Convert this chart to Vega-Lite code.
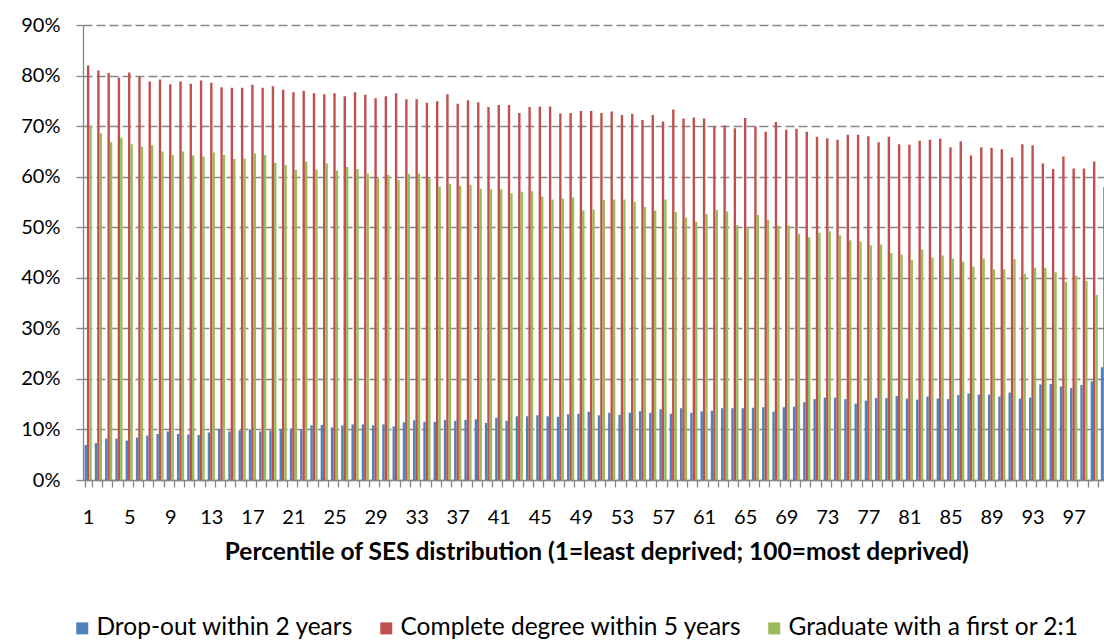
{
  "$schema": "https://vega.github.io/schema/vega-lite/v6.json",
  "width": 1021,
  "height": 455,
  "autosize": "none",
  "padding": {"left": 83, "top": 25, "right": 0, "bottom": 160},
  "background": "white",
  "config": {"font": "Lato", "view": {"stroke": null}},
  "data": {"values": [
    {"p":1,"d":6.9,"c":82.0,"g":69.9},{"p":2,"d":7.3,"c":81.0,"g":68.6},{"p":3,"d":8.2,"c":80.5,"g":66.8},{"p":4,"d":8.2,"c":79.6,"g":67.7},{"p":5,"d":7.8,"c":80.6,"g":66.4},
    {"p":6,"d":8.4,"c":79.7,"g":65.9},{"p":7,"d":8.8,"c":78.8,"g":66.2},{"p":8,"d":9.1,"c":79.2,"g":65.0},{"p":9,"d":9.6,"c":78.3,"g":64.3},{"p":10,"d":9.1,"c":78.8,"g":65.0},
    {"p":11,"d":9.0,"c":78.4,"g":64.2},{"p":12,"d":8.9,"c":79.0,"g":64.0},{"p":13,"d":9.4,"c":78.6,"g":64.8},{"p":14,"d":10.1,"c":77.7,"g":64.3},{"p":15,"d":9.6,"c":77.6,"g":63.5},
    {"p":16,"d":9.8,"c":77.6,"g":63.6},{"p":17,"d":10.0,"c":78.2,"g":64.6},{"p":18,"d":9.6,"c":77.6,"g":64.3},{"p":19,"d":9.8,"c":77.9,"g":62.7},{"p":20,"d":10.1,"c":77.2,"g":62.3},
    {"p":21,"d":10.2,"c":76.7,"g":61.3},{"p":22,"d":10.1,"c":77.0,"g":63.0},{"p":23,"d":10.8,"c":76.5,"g":61.4},{"p":24,"d":10.9,"c":76.3,"g":62.6},{"p":25,"d":10.4,"c":76.5,"g":61.2},
    {"p":26,"d":10.8,"c":75.9,"g":61.9},{"p":27,"d":11.0,"c":76.7,"g":61.5},{"p":28,"d":11.0,"c":76.2,"g":60.6},{"p":29,"d":10.8,"c":75.5,"g":59.7},{"p":30,"d":11.0,"c":75.9,"g":60.4},
    {"p":31,"d":10.6,"c":76.5,"g":59.3},{"p":32,"d":11.4,"c":75.3,"g":60.6},{"p":33,"d":11.8,"c":75.3,"g":60.6},{"p":34,"d":11.5,"c":74.6,"g":59.7},{"p":35,"d":11.5,"c":74.9,"g":58.0},
    {"p":36,"d":11.9,"c":76.3,"g":58.6},{"p":37,"d":11.7,"c":74.4,"g":58.2},{"p":38,"d":11.9,"c":75.1,"g":58.4},{"p":39,"d":12.0,"c":74.7,"g":57.6},{"p":40,"d":11.3,"c":73.8,"g":57.5},
    {"p":41,"d":12.3,"c":74.2,"g":57.5},{"p":42,"d":11.7,"c":74.2,"g":56.7},{"p":43,"d":12.6,"c":72.6,"g":57.0},{"p":44,"d":12.6,"c":73.8,"g":57.1},{"p":45,"d":12.8,"c":73.9,"g":56.1},
    {"p":46,"d":12.6,"c":73.9,"g":55.5},{"p":47,"d":12.5,"c":72.5,"g":55.7},{"p":48,"d":13.0,"c":72.6,"g":55.9},{"p":49,"d":13.1,"c":73.0,"g":53.3},{"p":50,"d":13.5,"c":73.0,"g":53.5},
    {"p":51,"d":12.8,"c":72.6,"g":55.4},{"p":52,"d":13.3,"c":72.9,"g":55.5},{"p":53,"d":12.9,"c":72.2,"g":55.5},{"p":54,"d":13.3,"c":72.4,"g":55.0},{"p":55,"d":13.6,"c":71.2,"g":54.0},
    {"p":56,"d":13.3,"c":72.2,"g":53.3},{"p":57,"d":14.0,"c":70.9,"g":55.5},{"p":58,"d":13.1,"c":73.3,"g":53.0},{"p":59,"d":14.2,"c":71.5,"g":51.9},{"p":60,"d":13.3,"c":71.7,"g":51.1},
    {"p":61,"d":13.6,"c":71.5,"g":52.6},{"p":62,"d":13.7,"c":69.9,"g":53.4},{"p":63,"d":14.2,"c":70.1,"g":53.1},{"p":64,"d":14.2,"c":69.6,"g":50.4},{"p":65,"d":14.2,"c":71.6,"g":49.9},
    {"p":66,"d":14.3,"c":69.9,"g":52.4},{"p":67,"d":14.4,"c":68.9,"g":51.5},{"p":68,"d":13.5,"c":70.8,"g":50.3},{"p":69,"d":14.4,"c":69.3,"g":50.3},{"p":70,"d":14.5,"c":69.5,"g":48.7},
    {"p":71,"d":15.4,"c":68.9,"g":48.0},{"p":72,"d":16.0,"c":67.9,"g":48.9},{"p":73,"d":16.3,"c":67.6,"g":49.2},{"p":74,"d":16.3,"c":67.3,"g":48.4},{"p":75,"d":16.0,"c":68.3,"g":47.4},
    {"p":76,"d":15.1,"c":68.3,"g":47.2},{"p":77,"d":15.7,"c":68.0,"g":46.4},{"p":78,"d":16.2,"c":66.8,"g":46.6},{"p":79,"d":16.2,"c":67.9,"g":44.9},{"p":80,"d":16.6,"c":66.4,"g":44.6},
    {"p":81,"d":16.1,"c":66.3,"g":43.5},{"p":82,"d":15.9,"c":67.1,"g":45.6},{"p":83,"d":16.5,"c":67.3,"g":44.0},{"p":84,"d":16.1,"c":67.5,"g":44.4},{"p":85,"d":16.0,"c":65.8,"g":43.8},
    {"p":86,"d":16.8,"c":67.0,"g":43.2},{"p":87,"d":17.1,"c":64.2,"g":42.2},{"p":88,"d":16.9,"c":65.8,"g":43.8},{"p":89,"d":16.9,"c":65.7,"g":41.7},{"p":90,"d":16.5,"c":65.4,"g":41.7},
    {"p":91,"d":17.3,"c":63.8,"g":43.7},{"p":92,"d":16.1,"c":66.4,"g":40.8},{"p":93,"d":16.3,"c":66.2,"g":42.0},{"p":94,"d":18.9,"c":62.6,"g":42.0},{"p":95,"d":19.0,"c":61.5,"g":41.1},
    {"p":96,"d":18.5,"c":64.0,"g":39.2},{"p":97,"d":18.2,"c":61.6,"g":40.4},{"p":98,"d":18.8,"c":61.6,"g":39.4},{"p":99,"d":19.5,"c":63.0,"g":36.6},{"p":100,"d":22.3,"c":57.9,"g":35.0}
  ]},
  "transform": [{"fold": ["d", "c", "g"], "as": ["series", "value"]}],
  "mark": {"type": "bar", "clip": true},
  "encoding": {
    "x": {
      "field": "p", "type": "ordinal",
      "scale": {"range": [0, 1026.6], "paddingInner": 0.3, "paddingOuter": 0.15},
      "axis": {
        "title": "Percentile of SES distribution (1=least deprived; 100=most deprived)",
        "titleFontSize": 24.5, "titleFontWeight": "bold", "titleColor": "black", "titlePadding": 13,
        "labelAngle": 0, "labelFontSize": 20, "labelColor": "black", "labelPadding": 20,
        "labelExpr": "(datum.value - 1) % 4 == 0 ? datum.label : ''",
        "labelOverlap": false, "labelBound": false,
        "tickBand": "extent", "tickSize": 7, "tickColor": "#868686", "tickWidth": 1.3,
        "domainColor": "#868686", "domainWidth": 1.3, "grid": false
      }
    },
    "xOffset": {"field": "series", "type": "nominal", "sort": ["d", "c", "g"], "scale": {"domain": ["d", "c", "g"]}},
    "y": {
      "field": "value", "type": "quantitative",
      "scale": {"domain": [0, 90], "nice": false},
      "axis": {
        "title": null, "values": [0, 10, 20, 30, 40, 50, 60, 70, 80, 90],
        "labelExpr": "datum.value + '%'",
        "labelFontSize": 20, "labelColor": "black", "labelPadding": 16,
        "tickSize": 7, "tickColor": "#868686", "tickWidth": 1.3,
        "domainColor": "#868686", "domainWidth": 1.3,
        "grid": true, "gridDash": [9, 4], "gridColor": "#868686", "gridWidth": 1.3
      }
    },
    "color": {
      "field": "series", "type": "nominal",
      "scale": {"domain": ["d", "c", "g"], "range": ["#4F81BD", "#C0504D", "#9BBB59"]},
      "legend": {
        "title": null, "orient": "none", "legendX": -13, "legendY": 591, "direction": "horizontal",
        "symbolType": "square", "symbolSize": 144, "symbolStrokeWidth": 0,
        "labelFontSize": 24.5, "labelColor": "black", "labelOffset": 2, "columnPadding": 20, "labelLimit": 500,
        "labelExpr": "datum.value == 'd' ? 'Drop-out within 2 years' : datum.value == 'c' ? 'Complete degree within 5 years' : 'Graduate with a first or 2:1'"
      }
    }
  }
}
